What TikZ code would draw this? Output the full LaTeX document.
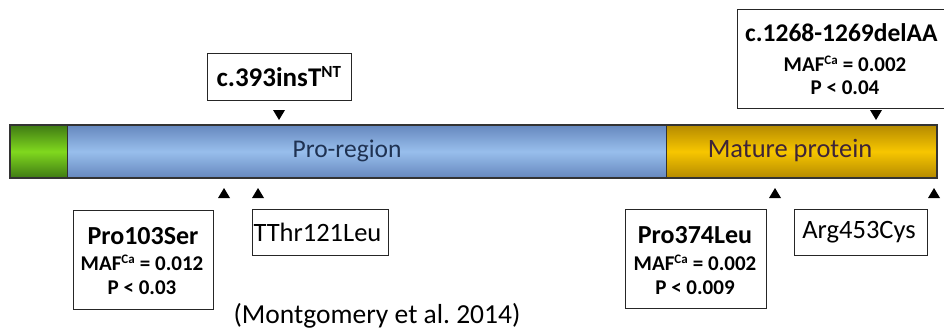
\documentclass[tikz,border=0pt]{standalone}
\usepackage{fontspec}
\setmainfont{Carlito}
\begin{document}
\frenchspacing
\begin{tikzpicture}[x=1pt,y=-1pt,
  seg/.style={draw=black!80,line width=1.2pt},
  lbox/.style={draw=black!85,line width=0.9pt,fill=white,inner sep=0pt},
  big/.style={font=\bfseries\fontsize{26}{29}\selectfont},
  small/.style={font=\bfseries\fontsize{21}{24}\selectfont},
  plain/.style={font=\fontsize{26.5}{29}\selectfont}]
\useasboundingbox (0,0) rectangle (944,329);
\definecolor{gmid}{HTML}{80D81E}\definecolor{gdark}{HTML}{3F7A14}
\definecolor{bmid}{HTML}{98BEEC}\definecolor{bdark}{HTML}{6688BE}
\definecolor{ymid}{HTML}{F7C600}\definecolor{ydark}{HTML}{B58A00}
\definecolor{protxt}{HTML}{1F3252}
\definecolor{mattxt}{HTML}{3E2438}
% bar segments
\path[top color=gdark,bottom color=gdark,middle color=gmid] (10,125) rectangle (67,178);
\path[top color=bdark,bottom color=bdark,middle color=bmid] (67,125) rectangle (666,178);
\path[top color=ydark,bottom color=ydark,middle color=ymid] (666,125) rectangle (937,178);
\draw[seg] (10,125) rectangle (937,178);
\draw[black!80,line width=0.8pt] (67,125) -- (67,178) (666,125) -- (666,178);
\node[font=\fontsize{25.5}{28}\selectfont,text=protxt] (pro) at (347,151) {Pro-region};
\node[font=\fontsize{26.5}{29}\selectfont,text=mattxt] (mat) at (790,151) {Mature protein};
% top labels
\node[lbox,minimum width=144,minimum height=47,font=\bfseries\fontsize{27}{30}\selectfont] (ins) at (279,76.5) {c.393insT\textsuperscript{\fontsize{17}{17}\selectfont NT}};
\node[lbox,minimum width=220,minimum height=99,anchor=north west,align=center] (del) at (737,9) {};
\node[anchor=west,inner sep=0pt,font=\bfseries\fontsize{25.5}{28}\selectfont] (delt) at (745,33) {c.1268-1269delAA};
\node[small] (delm) at (845,64) {MAF\textsuperscript{\fontsize{13}{13}\selectfont Ca} = 0.002};
\node[small] (delp) at (845,88) {P < 0.04};
% bottom labels
\node[lbox,minimum width=140,minimum height=99,anchor=north west] (p103) at (73,210) {};
\node[big] (p103t) at (143,236) {Pro103Ser};
\node[small] (p103m) at (142,263) {MAF\textsuperscript{\fontsize{13}{13}\selectfont Ca} = 0.012};
\node[small] (p103p) at (142,288) {P < 0.03};
\node[lbox,minimum width=136,minimum height=46,anchor=north west] (t121) at (252,209) {};
\node[plain,anchor=west] (t121t) at (250,232) {TThr121Leu};
\node[lbox,minimum width=141,minimum height=99,anchor=north west] (p374) at (625,209) {};
\node[big] (p374t) at (695,235) {Pro374Leu};
\node[small] (p374m) at (695,263) {MAF\textsuperscript{\fontsize{13}{13}\selectfont Ca} = 0.002};
\node[small] (p374p) at (695,288) {P < 0.009};
\node[lbox,minimum width=133,minimum height=46,anchor=north west] (r453) at (794,209) {};
\node[plain] (r453t) at (859,232) {Arg453Cys};
\node[font=\fontsize{27.5}{30}\selectfont] (cite) at (377,316) {(Montgomery et al. 2014)};
% triangles
\foreach \x/\y/\d in {279/110/1,876/110/1,224/198/-1,258/198/-1,775/198/-1,934/198/-1}{
  \fill (\x-6,\y) -- (\x+6,\y) -- (\x,\y+10*\d) -- cycle;
}
\end{tikzpicture}
\end{document}
